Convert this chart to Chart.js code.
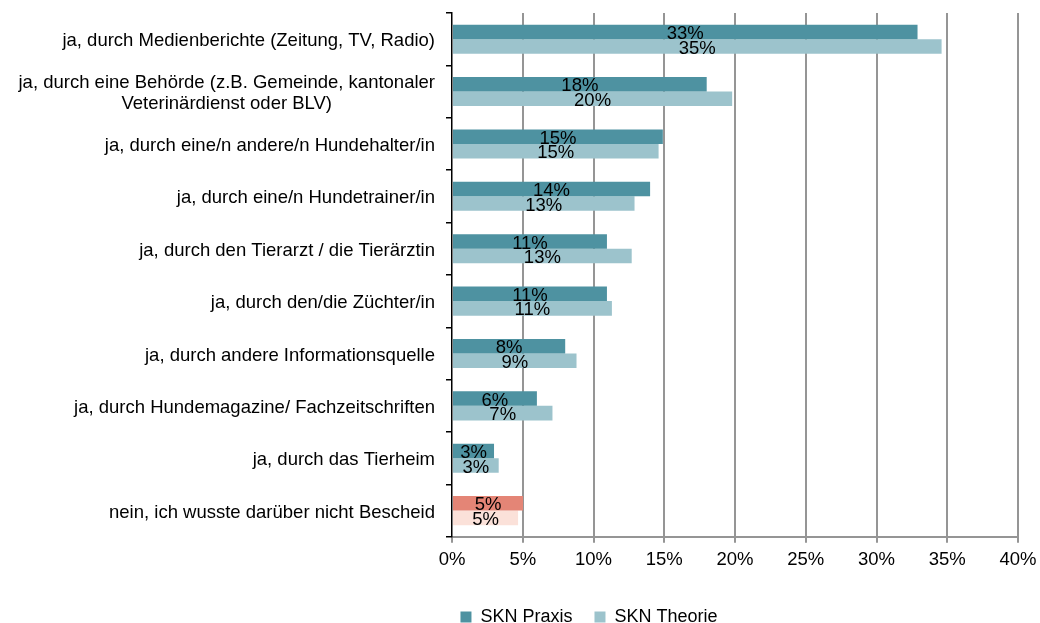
<!DOCTYPE html>
<html>
<head>
<meta charset="utf-8">
<script src="https://cdn.jsdelivr.net/npm/chart.js@4"></script>
<style>
  html, body { margin: 0; padding: 0; background: #fff; }
  #wrap { width: 1040px; height: 623px; position: relative; }
</style>
</head>
<body>
<div id="wrap"><canvas id="infoChart"></canvas></div>
<script>
// Woher wussten Sie vom SKN? - Praxis vs Theorie
const categories = [
    'ja, durch Medienberichte (Zeitung, TV, Radio)',
    ['ja, durch eine Behörde (z.B. Gemeinde, kantonaler', 'Veterinärdienst oder BLV)'],
    'ja, durch eine/n andere/n Hundehalter/in',
    'ja, durch eine/n Hundetrainer/in',
    'ja, durch den Tierarzt / die Tierärztin',
    'ja, durch den/die Züchter/in',
    'ja, durch andere Informationsquelle',
    'ja, durch Hundemagazine/ Fachzeitschriften',
    'ja, durch das Tierheim',
    'nein, ich wusste darüber nicht Bescheid'
];
const praxisValues  = [32.9, 18.0, 14.9, 14.0, 10.95, 10.95, 8.0, 6.0, 2.97, 5.02];
const theorieValues = [34.6, 19.8, 14.6, 12.9, 12.7, 11.3, 8.8, 7.1, 3.3, 4.67];
const seriesNames = ['SKN Praxis', 'SKN Theorie'];
const xTicks = [0, 5, 10, 15, 20, 25, 30, 35, 40];

const FONT = '"Liberation Sans", Arial, sans-serif';
const lastIdx = categories.length - 1;

// draws the rounded % value centred on every bar
const valueLabels = {
    id: 'valueLabels',
    afterDatasetsDraw(chart) {
        const ctx = chart.ctx;
        ctx.save();
        ctx.font = '18.5px ' + FONT;
        ctx.fillStyle = '#000';
        ctx.textAlign = 'center';
        ctx.textBaseline = 'middle';
        chart.data.datasets.forEach((ds, i) => {
            chart.getDatasetMeta(i).data.forEach((bar, j) => {
                const x = (bar.x + bar.base) / 2;
                ctx.fillText(Math.round(ds.data[j]) + '%', x, bar.y + 2);
            });
        });
        ctx.restore();
    }
};

// category labels: right aligned, wrapped lines centred on each other (like Excel)
const categoryLabels = {
    id: 'categoryLabels',
    afterDraw(chart) {
        const ctx = chart.ctx;
        const yScale = chart.scales.y;
        const right = yScale.right - 17;
        const lineH = 21;
        ctx.save();
        ctx.font = '18.5px ' + FONT;
        ctx.fillStyle = '#000';
        ctx.textBaseline = 'middle';
        ctx.textAlign = 'center';
        categories.forEach((lab, i) => {
            const lines = Array.isArray(lab) ? lab : [lab];
            const w = Math.max(...lines.map(l => ctx.measureText(l).width));
            const cx = right - w / 2;
            const y0 = yScale.getPixelForValue(i) + 2 - (lines.length - 1) * lineH / 2;
            lines.forEach((l, k) => ctx.fillText(l, cx, y0 + k * lineH));
        });
        ctx.restore();
    }
};

// nudge the legend to where it sits in the original
const legendShift = {
    id: 'legendShift',
    afterLayout(chart) {
        const lg = chart.legend;
        lg.left += 80; lg.right += 80;
        lg.top += 13; lg.bottom += 13;
    }
};

document.addEventListener('DOMContentLoaded', () => {
    const ctx = document.getElementById('infoChart').getContext('2d');
    new Chart(ctx, {
        type: 'bar',
        data: {
            labels: categories,
            datasets: [{
                label: seriesNames[0],
                data: praxisValues,
                backgroundColor: (c) => c.dataIndex === lastIdx ? '#E48576' : '#4E92A1',
                categoryPercentage: 0.555,
                barPercentage: 1
            }, {
                label: seriesNames[1],
                data: theorieValues,
                backgroundColor: (c) => c.dataIndex === lastIdx ? '#FBE1D9' : '#9CC3CC',
                categoryPercentage: 0.555,
                barPercentage: 1
            }]
        },
        options: {
            indexAxis: 'y',
            responsive: true,
            maintainAspectRatio: false,
            animation: false,
            layout: { padding: { top: 13, right: 22, left: 0, bottom: 0 } },
            scales: {
                x: {
                    min: 0,
                    max: 40,
                    afterBuildTicks: (scale) => {
                        scale.ticks = xTicks.map(v => ({ value: v }));
                    },
                    afterFit: (scale) => {
                        scale.height -= 4;
                        scale.paddingRight = 0;
                        scale.paddingLeft = 0;
                    },
                    ticks: {
                        callback: (v) => v + '%',
                        color: '#000',
                        font: { family: FONT, size: 18.5 },
                        padding: 6,
                        maxRotation: 0
                    },
                    grid: {
                        color: (c) => c.index === 0 ? 'rgba(0,0,0,0)' : '#959595',
                        lineWidth: 2,
                        tickLength: 6,
                        tickColor: '#959595'
                    },
                    border: { color: '#959595', width: 2 }
                },
                y: {
                    afterFit: (scale) => { scale.width = 452; },
                    ticks: {
                        color: 'rgba(0,0,0,0)',
                        font: { family: FONT, size: 2 },
                        autoSkip: false
                    },
                    grid: {
                        offset: true,
                        drawOnChartArea: false,
                        tickLength: 6,
                        tickColor: '#000',
                        lineWidth: 1.5
                    },
                    border: { color: '#000', width: 1.5 }
                }
            },
            plugins: {
                legend: {
                    position: 'bottom',
                    labels: {
                        color: '#000',
                        font: { family: FONT, size: 18 },
                        boxWidth: 11,
                        boxHeight: 11,
                        padding: 22
                    }
                },
                tooltip: { enabled: false }
            }
        },
        plugins: [valueLabels, categoryLabels, legendShift]
    });
});
</script>
</body>
</html>
